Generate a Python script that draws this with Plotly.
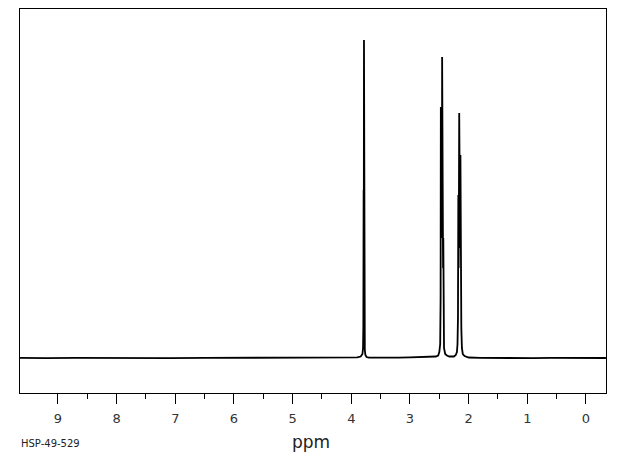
import plotly.graph_objects as go

# Spectrum points (ppm, relative intensity)
ppm = [9.65, 9.2, 8.7, 8.2, 7.6, 7.1, 6.5, 6.0, 5.5, 5.0, 4.5, 4.2, 4.0,
       3.90, 3.84, 3.81, 3.800, 3.795, 3.790, 3.787, 3.784, 3.780, 3.776, 3.770, 3.76, 3.74, 3.70,
       3.5, 3.2, 3.0, 2.8, 2.65,
       2.56, 2.52, 2.50, 2.485, 2.478, 2.474, 2.468, 2.462, 2.456, 2.452, 2.447, 2.441, 2.436, 2.432, 2.428, 2.42, 2.40, 2.37, 2.33, 2.30,
       2.25, 2.22, 2.20, 2.19, 2.182, 2.176, 2.171, 2.166, 2.161, 2.156, 2.150, 2.145, 2.140, 2.135, 2.130, 2.125, 2.115, 2.10, 2.07, 2.03, 2.00,
       1.8, 1.5, 1.2, 0.9, 0.6, 0.3, 0.0, -0.34]
intensity = [0.2, -0.2, 0.2, -0.1, 0.2, -0.2, 0.1, 0.2, -0.2, 0.2, -0.1, 0.2, 0.4,
             0.6, 1.5, 4, 10, 31, 168, 140, 318, 168, 31, 8, 3, 1, 0.4,
             0.2, 0.4, 0.6, 0.8, 1.0,
             1.5, 2.5, 6, 14, 60, 251, 150, 240, 120, 301, 130, 182, 90, 120, 30, 10, 4, 2.5, 1.5, 1.5,
             1.5, 3, 6, 14, 40, 163, 90, 150, 245, 120, 221, 110, 203, 80, 100, 30, 10, 4, 2, 1, 0.5,
             0.2, -0.1, 0.2, -0.2, 0.1, -0.1, 0.2, 0.0]

major_ticks = [0, 1, 2, 3, 4, 5, 6, 7, 8, 9]
major_labels = ["0", "1", "2", "3", "4", "5", "6", "7", "8", "9"]
minor_ticks = [0.5, 1.5, 2.5, 3.5, 4.5, 5.5, 6.5, 7.5, 8.5]

x_title = "ppm"
code_label = "HSP-49-529"

fig = go.Figure()
fig.add_trace(go.Scatter(x=ppm, y=intensity, mode="lines",
                         line=dict(color="black", width=1.8),
                         hoverinfo="skip", showlegend=False))

fig.update_layout(
    width=620, height=455,
    margin=dict(l=20, r=14, t=9, b=62),
    paper_bgcolor="white", plot_bgcolor="white",
    font=dict(family="DejaVu Sans", color="#222222"),
    xaxis=dict(
        range=[9.647, -0.341], showgrid=False, zeroline=False,
        showline=True, linecolor="black", linewidth=1, mirror=True,
        tickmode="array", tickvals=major_ticks, ticktext=major_labels,
        ticks="outside", ticklen=10, tickwidth=1, tickcolor="black",
        ticklabelstandoff=3,
        tickfont=dict(size=13, color="#333333"),
        minor=dict(tickvals=minor_ticks, ticks="outside", ticklen=5,
                   tickwidth=1, tickcolor="black", showgrid=False),
    ),
    yaxis=dict(
        range=[-35, 349], showgrid=False, zeroline=False,
        showline=True, linecolor="black", linewidth=1, mirror=True,
        showticklabels=False, ticks="",
    ),
    annotations=[
        dict(text=x_title, xref="paper", yref="paper", x=0.497, y=-0.127,
             xanchor="center", yanchor="middle", showarrow=False,
             font=dict(size=17, color="#222222")),
        dict(text=code_label, xref="paper", yref="paper", x=-0.002, y=-0.132,
             xanchor="left", yanchor="middle", showarrow=False,
             font=dict(size=10, color="#222222")),
    ],
)

fig.write_html("out.html",
               config={"displayModeBar": False},
               post_script="document.body.style.margin='0';document.body.style.padding='0';")
